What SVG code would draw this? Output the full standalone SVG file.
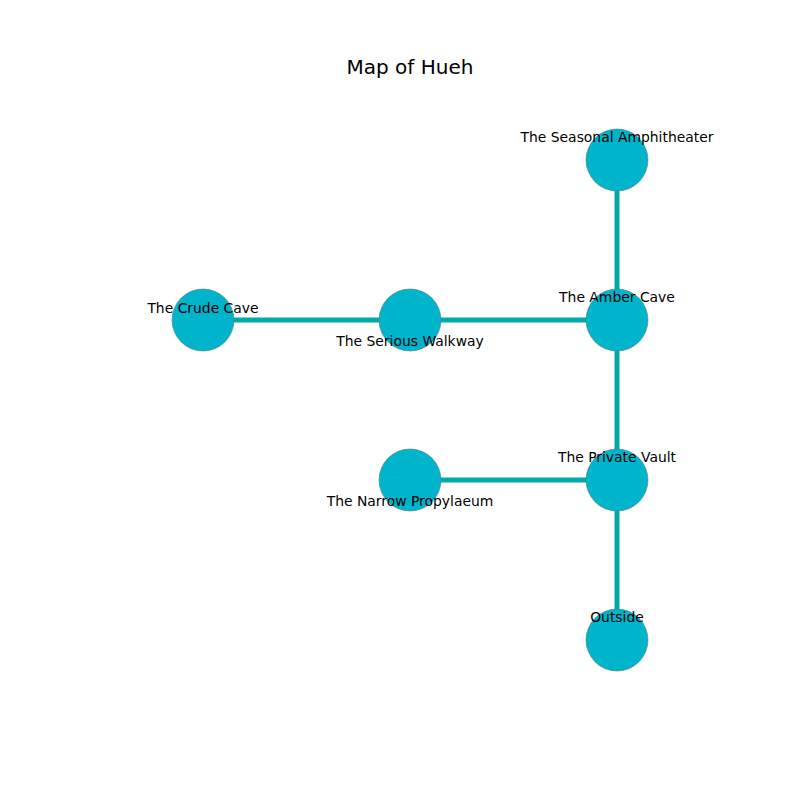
<svg xmlns="http://www.w3.org/2000/svg" width="800" height="800" viewBox="0 0 800 800">
<style>
.edge{stroke:#00aaa8;stroke-width:5;fill:none}
.node circle{fill:#00b4cc;stroke:#5a7a80;stroke-width:0.6}
text{font-family:"DejaVu Sans",sans-serif;font-size:13.9px;fill:#000;text-anchor:middle;dominant-baseline:central}
.title{font-size:20px}
</style>
<rect width="800" height="800" fill="#fff"/>
<text class="title" x="410" y="67">Map of Hueh</text>
<g id="edges">
<line class="edge" x1="617" y1="160" x2="617" y2="320"/>
<line class="edge" x1="203" y1="320" x2="410" y2="320"/>
<line class="edge" x1="410" y1="320" x2="617" y2="320"/>
<line class="edge" x1="617" y1="320" x2="617" y2="480"/>
<line class="edge" x1="410" y1="480" x2="617" y2="480"/>
<line class="edge" x1="617" y1="480" x2="617" y2="640"/>
</g>
<g id="seasonal" class="node"><circle cx="617" cy="160" r="31"/><text x="617" y="137">The Seasonal Amphitheater</text></g>
<g id="crude" class="node"><circle cx="203" cy="320" r="31"/><text x="203" y="308">The Crude Cave</text></g>
<g id="serious" class="node"><circle cx="410" cy="320" r="31"/><text x="410" y="341">The Serious Walkway</text></g>
<g id="amber" class="node"><circle cx="617" cy="320" r="31"/><text x="617" y="297">The Amber Cave</text></g>
<g id="narrow" class="node"><circle cx="410" cy="480" r="31"/><text x="410" y="501">The Narrow Propylaeum</text></g>
<g id="private" class="node"><circle cx="617" cy="480" r="31"/><text x="617" y="457">The Private Vault</text></g>
<g id="outside" class="node"><circle cx="617" cy="640" r="31"/><text x="617" y="617">Outside</text></g>
</svg>
